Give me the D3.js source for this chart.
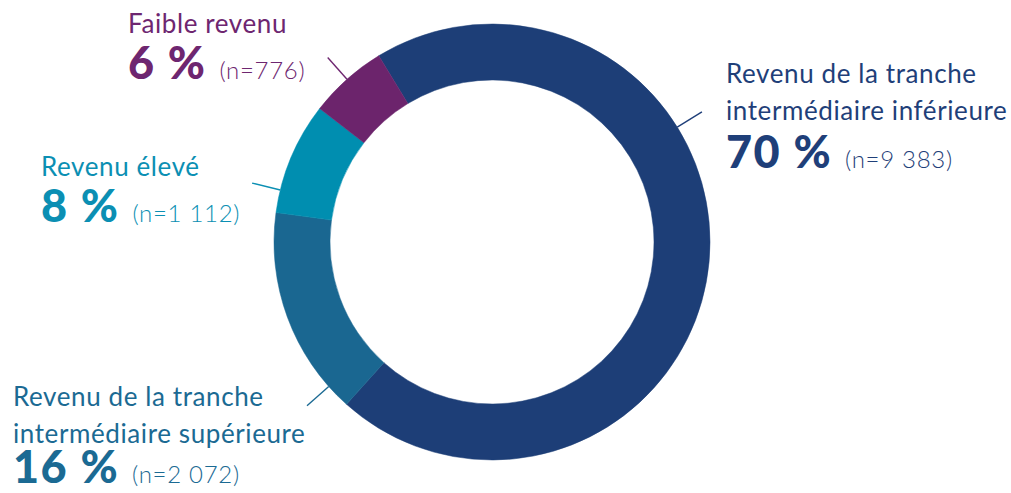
<!DOCTYPE html>
<html>
<head>
<meta charset="utf-8">
<script src="https://cdn.jsdelivr.net/npm/d3@7"></script>
<style>
  html, body { margin: 0; padding: 0; background: #ffffff; }
  svg { display: block; }
  text { font-family: Lato, "Noto Sans", sans-serif; }
</style>
</head>
<body>
<svg id="chart" width="1011" height="493"></svg>
<script>
// Income groups, in drawing order (clockwise from the top-left)
const categories = [
  ["Revenu de la tranche", "intermédiaire inférieure"],
  ["Revenu de la tranche", "intermédiaire supérieure"],
  ["Revenu élevé"],
  ["Faible revenu"]
];
const percents = [70, 16, 8, 6];
const counts = [9383, 2072, 1112, 776];
const colors = ["#1d3e77", "#1a6791", "#008eb0", "#6c246c"];
const textColors = ["#1f3f79", "#1b6a93", "#0b8fb3", "#6e2670"];

// Label placement: leader-line angle (degrees, clockwise from 12 o'clock),
// text x, baseline of the first name line, baseline of the percentage line
const labelLayout = [
  { angle: 58.2,  x: 726, y: 83,  pctY: 168 },
  { angle: 228.5, x: 13,  y: 406, pctY: 483 },
  { angle: 283.8, x: 41,  y: 176, pctY: 222 },
  { angle: 318.3, x: 128, y: 33,  pctY: 79 }
];

const svg = d3.select("#chart");
const cx = 492, cy = 242;
const outerR = 218, innerR = 162;
const startDeg = -31.3;

const fr = d3.formatLocale({ decimal: ",", thousands: " ", grouping: [3], currency: ["", " $"] });
const fmtCount = fr.format(",d");

const pie = d3.pie()
  .sort(null)
  .value(d => d)
  .startAngle(startDeg * Math.PI / 180)
  .endAngle(startDeg * Math.PI / 180 + 2 * Math.PI);

const arc = d3.arc().innerRadius(innerR).outerRadius(outerR);

const g = svg.append("g").attr("transform", `translate(${cx},${cy})`);

g.selectAll("path.slice")
  .data(pie(counts))
  .join("path")
  .attr("class", "slice")
  .attr("d", arc)
  .attr("fill", (d, i) => colors[i])
  .attr("stroke", (d, i) => colors[i])
  .attr("stroke-width", 0.5);

// Leader lines
const leaderIn = 218, leaderOut = 247;
g.selectAll("line.leader")
  .data(labelLayout)
  .join("line")
  .attr("class", "leader")
  .attr("x1", d => leaderIn * Math.sin(d.angle * Math.PI / 180))
  .attr("y1", d => -leaderIn * Math.cos(d.angle * Math.PI / 180))
  .attr("x2", d => leaderOut * Math.sin(d.angle * Math.PI / 180))
  .attr("y2", d => -leaderOut * Math.cos(d.angle * Math.PI / 180))
  .attr("stroke", (d, i) => textColors[i])
  .attr("stroke-width", 1.4);

// Labels
const lineGap = 36.7;
categories.forEach((lines, i) => {
  const L = labelLayout[i];
  const lg = svg.append("g").attr("fill", textColors[i]);
  lines.forEach((t, k) => {
    lg.append("text")
      .attr("x", L.x)
      .attr("y", L.y + k * lineGap)
      .attr("font-size", 26)
      .attr("letter-spacing", 0.6)
      .text(t);
  });
  const pct = lg.append("text")
    .attr("x", L.x)
    .attr("y", L.pctY)
    .attr("font-size", 45)
    .attr("font-weight", 900)
    .attr("letter-spacing", 1.5)
    .text(percents[i] + " %");
  const w = pct.node().getComputedTextLength();
  lg.append("text")
    .attr("x", L.x + w + 13)
    .attr("y", L.pctY)
    .attr("font-size", 24)
    .attr("font-weight", 300)
    .attr("letter-spacing", 0.7)
    .text("(n=" + fmtCount(counts[i]) + ")");
});
</script>
</body>
</html>
